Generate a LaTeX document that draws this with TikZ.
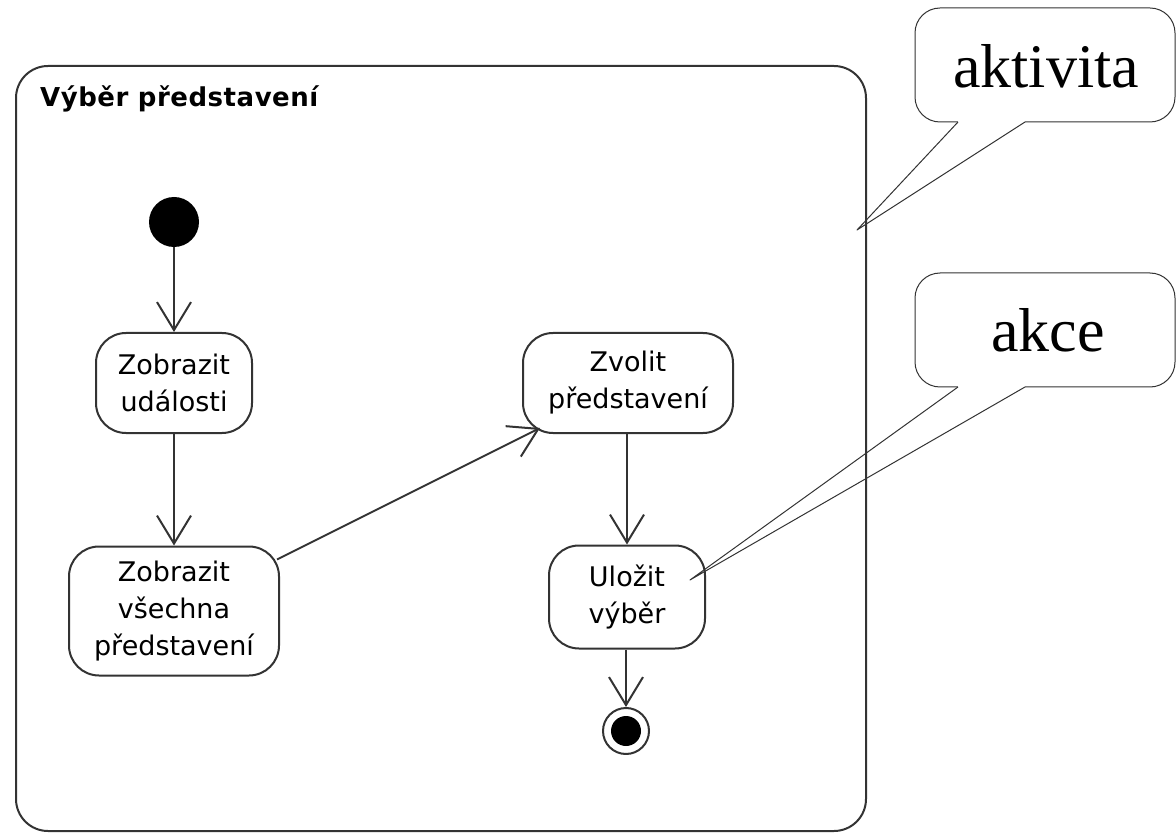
\documentclass[tikz,border=0pt]{standalone}
\usepackage{fontspec}
\setmainfont{Liberation Serif}
\newfontfamily\actfont{DejaVu Sans}
\newfontfamily\titlefont[LetterSpace=2]{DejaVu Sans}
\usetikzlibrary{arrows.meta,calc}
\definecolor{ink}{HTML}{333333}
\tikzset{
  frame/.style={draw=ink, line width=2pt, rounded corners=32pt},
  action/.style={draw=ink, line width=2pt, rounded corners=30pt, align=center,
    inner sep=0pt, font=\actfont\fontsize{27}{37}\selectfont},
  flow/.style={draw=ink, line width=2pt, -{Straight Barb[length=28pt,width=34pt]}},
  bubble/.style={draw=ink, line width=1pt, fill=white, rounded corners=25pt},
  pointer/.style={draw=ink, line width=1pt},
  calltext/.style={font=\fontsize{62}{70}\selectfont, inner sep=0pt, anchor=base}
}
\begin{document}
\begin{tikzpicture}[x=1pt,y=-1pt,line join=round]
\useasboundingbox (0,0) rectangle (1176,834);
% activity frame
\draw[frame] (16,66) rectangle (866,831);
\node[anchor=base west, inner sep=0pt, font=\titlefont\bfseries\fontsize{26}{30}\selectfont] (title) at (40,107) {Výběr představení};
% nodes
\node[circle, fill=black, minimum size=50pt, inner sep=0pt] (init) at (174,222) {};
\node[action, minimum width=156pt, minimum height=100pt] (n1) at (174,383) {Zobrazit\\události};
\node[action, minimum width=210pt, minimum height=129pt] (n2) at (174,611) {Zobrazit\\všechna\\představení};
\node[action, minimum width=210pt, minimum height=100pt] (n3) at (628,383) {Zvolit\\představení};
\node[action, minimum width=156pt, minimum height=103pt] (n4) at (627,597) {Uložit\\výběr};
\node[circle, draw=ink, line width=2pt, minimum size=46pt, inner sep=0pt] (fin) at (626,731) {};
\node[circle, fill=black, minimum size=30pt, inner sep=0pt] (fincore) at (fin.center) {};
% flows
\draw[flow] (init) -- (init |- n1.north);
\draw[flow] (n1) -- (n2);
\draw[flow] ($(n2.north east)+(-3,14)$) -- ($(n3.south west)+(18,-6)$);
\draw[flow] (n3.south -| n4) -- (n4);
\draw[flow] (n4.south -| fin) -- (fin);
% callout: aktivita
\coordinate (tipA) at (857,230);
\draw[bubble] (915,8) rectangle (1175,122);
\fill[white] (958,120) rectangle (1025,124);
\draw[pointer] (958,122) -- (tipA) -- (1025,122);
\node[calltext] (aktivita) at (1046,88) {aktivita};
% callout: akce
\coordinate (tipB) at (690,580);
\draw[bubble] (915,273) rectangle (1175,387);
\fill[white] (958,385) rectangle (1025,389);
\draw[pointer] (958,387) -- (tipB) -- (1025,387);
\node[calltext] (akce) at (1048,352) {akce};
\end{tikzpicture}
\end{document}
